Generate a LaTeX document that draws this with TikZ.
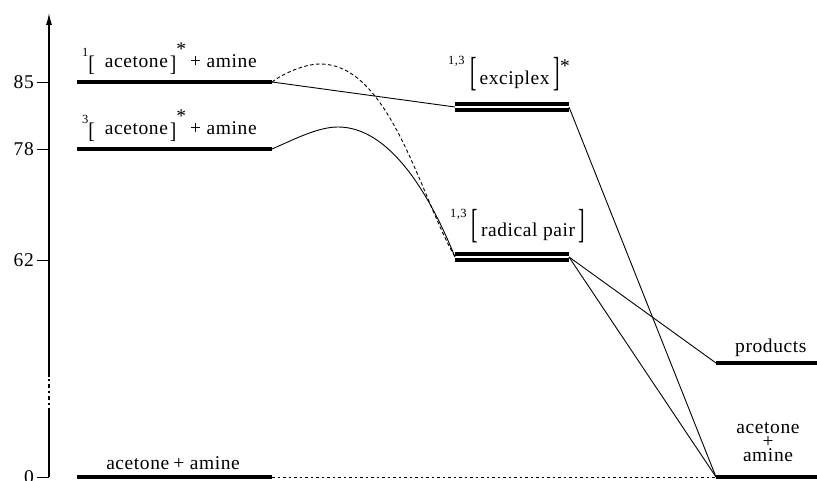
\documentclass[tikz,border=0pt]{standalone}
\usepackage{fontspec}
\setmainfont{Liberation Serif}[LetterSpace=3]
\usepackage{graphicx}
\usetikzlibrary{arrows.meta}

% pieces of the state labels
\newcommand{\spinmult}[2]{\raisebox{#1}{\fontsize{12.5}{12.5}\selectfont #2}}
\newcommand{\exstar}[1]{\raisebox{#1}{*}}
\newcommand{\smallopen}{\raisebox{-3.5pt}{\scalebox{1}[1.15]{[}}}
\newcommand{\smallclose}{\raisebox{-3.5pt}{\scalebox{1}[1.15]{]}}}
\newcommand{\bigopen}{\raisebox{-1pt}{\scalebox{1}[2.08]{[}}}
\newcommand{\bigclose}{\raisebox{-1pt}{\scalebox{1}[2.08]{]}}}

\begin{document}
\begin{tikzpicture}[x=1pt,y=-1pt,
  level/.style={line width=4pt},
  twin/.style={line width=3.4pt},
  link/.style={line width=0.9pt},
  axisline/.style={line width=1.2pt},
  tickline/.style={line width=0.9pt},
  lbl/.style={inner sep=0pt, anchor=base west, font=\fontsize{19.5}{19.5}\selectfont},
  ticklbl/.style={inner sep=0pt, anchor=east, font=\fontsize{19.5}{19.5}\selectfont}]

\useasboundingbox (0,0) rectangle (817,481);

% energy axis, broken near the bottom
\coordinate (ax0) at (49,477);
\coordinate (axb1) at (49,412);
\coordinate (axb2) at (49,377);
\coordinate (axtop) at (49,13);
\draw[axisline] (ax0) -- (axb1);
\draw[axisline, dash pattern=on 4pt off 3pt on 2pt off 3pt] (axb1) -- (axb2);
\draw[axisline, -{Latex[length=12pt,width=6pt]}] (axb2) -- (axtop);

% ticks and their values
\coordinate (t85) at (49,82);
\coordinate (t78) at (49,149);
\coordinate (t62) at (49,260);
\coordinate (t0) at (49,477);
\draw[tickline] (t85) -- ++(-12,0);
\draw[tickline] (t78) -- ++(-12,0);
\draw[tickline] (t62) -- ++(-12,0);
\draw[tickline] (t0) -- ++(-12,0);
\node[ticklbl] (v85) at (34,82) {85};
\node[ticklbl] (v78) at (34,149) {78};
\node[ticklbl] (v62) at (34,260) {62};
\node[ticklbl] (v0) at (34,477) {0};

% level end points
\coordinate (s1L) at (77,82);   \coordinate (s1R) at (272,82);
\coordinate (t1L) at (77,149);  \coordinate (t1R) at (272,149);
\coordinate (g0L) at (77,477);  \coordinate (g0R) at (272,477);
\coordinate (exL) at (455,107); \coordinate (exR) at (569,107);
\coordinate (rpL) at (455,257); \coordinate (rpR) at (569,257);
\coordinate (prL) at (716,363); \coordinate (prR) at (817,363);
\coordinate (gfL) at (716,477); \coordinate (gfR) at (817,477);
\coordinate (sTop) at (320,64);
\coordinate (tTop) at (338,127);

% connections between the states
\draw[link] (s1R) -- (exL);
\draw[link, dash pattern=on 3.5pt off 2.5pt] (s1R) .. controls (284,73) and (305,64) .. (sTop)
      .. controls (390,64) and (420,196) .. (rpL);
\draw[link] (t1R) .. controls (295,139) and (318,127) .. (tTop)
      .. controls (390,127) and (430,195) .. (rpL);
\draw[link] (exR) -- (gfL);
\draw[link] (rpR) -- (prL);
\draw[link] (rpR) -- (gfL);
\draw[link, dash pattern=on 2.5pt off 3pt] (g0R) -- (gfL);

% energy levels
\draw[level] (s1L) -- (s1R);
\draw[level] (t1L) -- (t1R);
\draw[level] (g0L) -- (g0R);
\draw[twin] ([yshift=2.9pt]exL) -- ([yshift=2.9pt]exR);
\draw[twin] ([yshift=-2.9pt]exL) -- ([yshift=-2.9pt]exR);
\draw[twin] ([yshift=2.9pt]rpL) -- ([yshift=2.9pt]rpR);
\draw[twin] ([yshift=-2.9pt]rpL) -- ([yshift=-2.9pt]rpR);
\draw[level] (prL) -- (prR);
\draw[level] (gfL) -- (gfR);

% state labels
\node[lbl] (labS1) at (82,68)
  {\spinmult{11pt}{1}\smallopen\hspace{10pt}acetone\hspace{2pt}\smallclose\exstar{12.5pt}\hspace{4pt}+ amine};
\node[lbl] (labT1) at (82,135)
  {\spinmult{11pt}{3}\smallopen\hspace{10pt}acetone\hspace{2pt}\smallclose\exstar{12.5pt}\hspace{4pt}+ amine};
\node[lbl, anchor=base] (labG0) at (173,469) {acetone\hspace{4pt}+ amine};
\node[lbl] (labEx) at (448,85)
  {\spinmult{20pt}{1,3}\hspace{6pt}\bigopen\hspace{2.5pt}exciplex\hspace{4pt}\bigclose\exstar{12pt}};
\node[lbl] (labRp) at (450,237)
  {\spinmult{20pt}{1,3}\hspace{5pt}\bigopen\hspace{3pt}radical pair\hspace{3pt}\bigclose};
\node[lbl] (labPr) at (735,352) {products};
\node[lbl, anchor=base, align=center, font=\fontsize{19.5}{14}\selectfont] (labGf) at (768,461)
  {acetone\\+\\amine};
\end{tikzpicture}
\end{document}
